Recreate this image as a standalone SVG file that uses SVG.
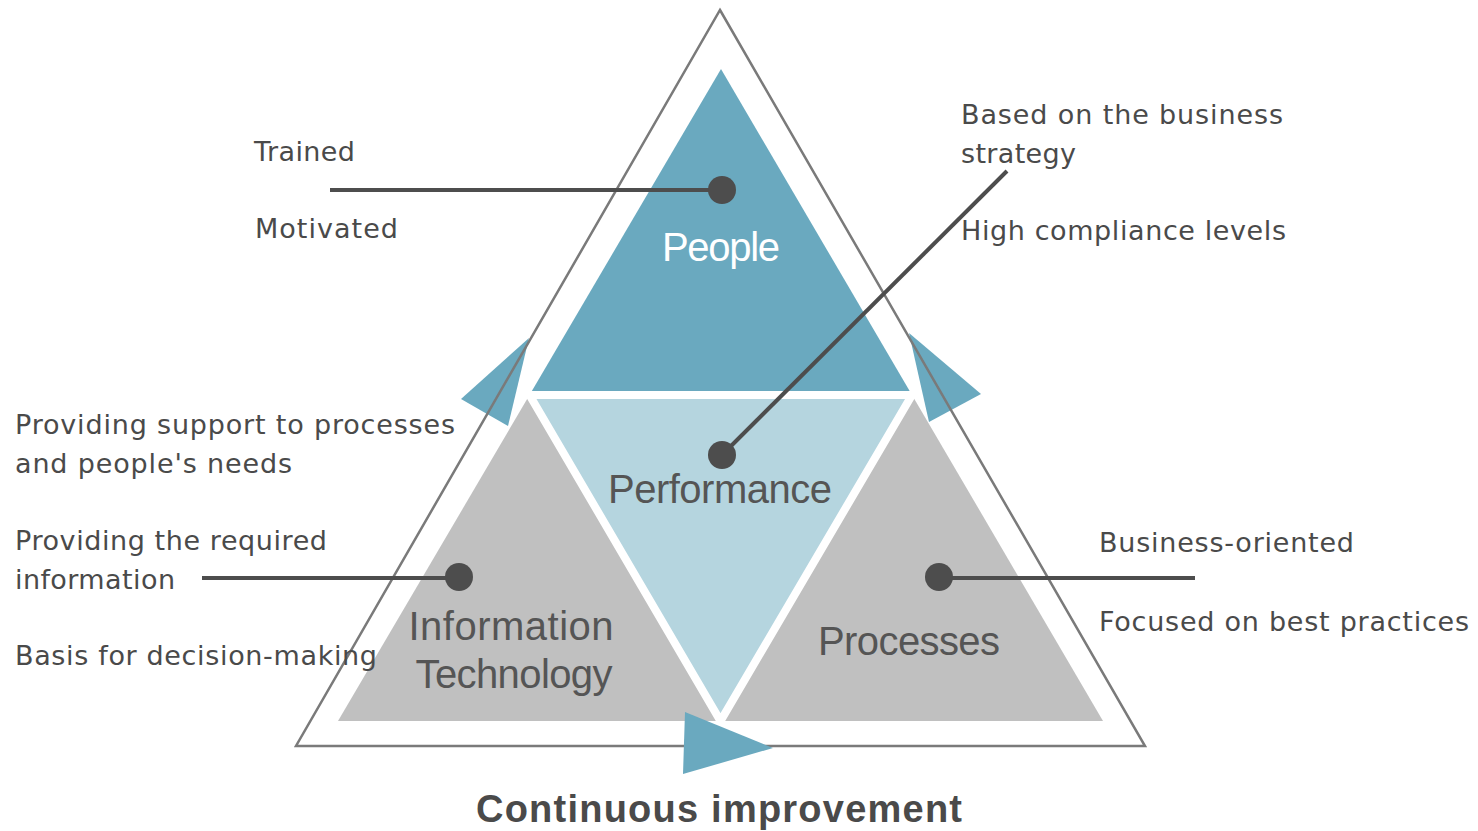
<svg xmlns="http://www.w3.org/2000/svg" width="1478" height="831" viewBox="0 0 1478 831">
  <style>
    .lbl { font-family: "DejaVu Sans", "Liberation Sans", sans-serif; font-size: 27px; fill: #4a4a4a; }
    .node-title { font-family: "Liberation Sans", Arial, sans-serif; font-size: 40px; text-anchor: middle; }
    .wedge { fill: #6aa9bf; }
    .leader { stroke: #4d4d4d; stroke-width: 4; fill: none; }
    .dot { fill: #4d4d4d; }
    .gap { fill: none; stroke: #ffffff; stroke-width: 8; stroke-linejoin: miter; }
  </style>
  <rect width="1478" height="831" fill="#ffffff"/>

  <!-- cycle arrows on the left and right sides -->
  <g id="cycle-wedges">
    <polygon class="wedge" points="529,338 461,399 508,426"/>
    <polygon class="wedge" points="909,333 981,394 929,422"/>
  </g>

  <g id="people">
    <polygon points="721,69 529.5,395 912,395" fill="#6aa9bf"/>
  </g>
  <g id="performance">
    <polygon points="529.5,395 912,395 720.5,721" fill="#b5d5df"/>
  </g>
  <g id="information-technology">
    <polygon points="529.5,395 720.5,721 338,721" fill="#c0c0c0"/>
  </g>
  <g id="processes">
    <polygon points="912,395 1103,721 720.5,721" fill="#c0c0c0"/>
  </g>

  <!-- white separators between the four inner triangles -->
  <polygon class="gap" points="529.5,395 912,395 720.5,721"/>

  <!-- outer frame -->
  <g id="frame">
    <polygon points="720,10 1145,746 296,746" fill="none" stroke="#7a7a7a" stroke-width="2.5"/>
    <polygon class="wedge" points="685,712 773,748 683,774"/>
  </g>

  <g id="connectors">
    <line class="leader" x1="330" y1="190" x2="722" y2="190"/>
    <line class="leader" x1="722" y1="455" x2="1007" y2="171" stroke-width="3"/>
    <line class="leader" x1="202" y1="578" x2="459" y2="578"/>
    <line class="leader" x1="939" y1="578" x2="1195" y2="578"/>
    <circle class="dot" cx="722" cy="190" r="14"/>
    <circle class="dot" cx="722" cy="455" r="14"/>
    <circle class="dot" cx="459" cy="577" r="14"/>
    <circle class="dot" cx="939" cy="577" r="14"/>
  </g>

  <g id="node-titles">
    <text class="node-title" x="721" y="261" fill="#ffffff" font-size="39" textLength="118">People</text>
    <text class="node-title" x="720" y="503" fill="#555555" textLength="224">Performance</text>
    <text class="node-title" x="511" y="640" fill="#555555" textLength="205">Information</text>
    <text class="node-title" x="514" y="688" fill="#555555" textLength="197">Technology</text>
    <text class="node-title" x="909" y="655" fill="#555555" textLength="182">Processes</text>
  </g>

  <g id="labels">
    <text class="lbl" x="254" y="161" textLength="101">Trained</text>
    <text class="lbl" x="255" y="238" textLength="143">Motivated</text>
    <text class="lbl" x="961" y="124" textLength="322">Based on the business</text>
    <text class="lbl" x="961" y="163" textLength="115">strategy</text>
    <text class="lbl" x="961" y="240" textLength="325">High compliance levels</text>
    <text class="lbl" x="15" y="434" textLength="440">Providing support to processes</text>
    <text class="lbl" x="15" y="473" textLength="277">and people's needs</text>
    <text class="lbl" x="15" y="550" textLength="312">Providing the required</text>
    <text class="lbl" x="15" y="589" textLength="160">information</text>
    <text class="lbl" x="15" y="665" textLength="362">Basis for decision-making</text>
    <text class="lbl" x="1099" y="552" textLength="255">Business-oriented</text>
    <text class="lbl" x="1099" y="631" textLength="370">Focused on best practices</text>
  </g>

  <text x="719" y="822" text-anchor="middle" font-family="Liberation Sans, Arial, sans-serif" font-size="38" font-weight="bold" fill="#4a4a4a" textLength="486">Continuous improvement</text>
</svg>
